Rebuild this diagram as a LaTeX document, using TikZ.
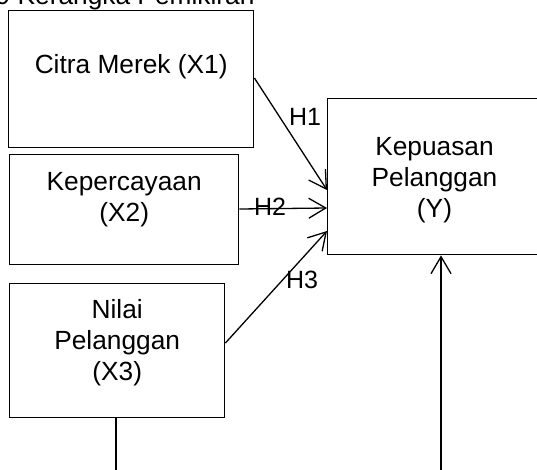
\documentclass[tikz,border=0pt]{standalone}
\usepackage{fontspec}
\setmainfont{Liberation Sans}
\usetikzlibrary{arrows.meta,calc}
\begin{document}
\begin{tikzpicture}[x=1pt,y=-1pt,
  box/.style={draw=black,line width=1.4pt,rectangle,inner sep=0pt,anchor=north west},
  boxtext/.style={inner sep=0pt,anchor=base,align=center,font=\fontsize{26.3}{31}\selectfont},
  hlabel/.style={inner sep=0pt,font=\fontsize{25}{28}\selectfont},
  conn/.style={line width=1.3pt},
  arr/.style={line width=1.3pt,-{Straight Barb[length=17pt,width=20pt,line width=1.3pt]}}]
\useasboundingbox (0,0) rectangle (537,469);
\clip (0,0) rectangle (537,469);
% title (cut off at top)
\node[inner sep=0pt,anchor=base west,font=\fontsize{26.3}{31}\selectfont] (title) at (-4.5,4.5) {9 Kerangka Pemikiran};
% boxes
\node[box,minimum width=245pt,minimum height=137pt] (x1) at (8,10) {};
\node[box,minimum width=229pt,minimum height=110pt] (x2) at (9,154) {};
\node[box,minimum width=215pt,minimum height=134pt] (x3) at (9,283) {};
\node[box,minimum width=225pt,minimum height=156pt] (y) at (327,98) {};
% texts (anchor = baseline of last line)
\node[boxtext] (x1t) at ($(x1.north)+(0,63)$) {Citra Merek (X1)};
\node[boxtext] (x2t) at ($(x2.north)+(0,67)$) {Kepercayaan\\(X2)};
\node[boxtext] (x3t) at ($(x3.north)+(0,97)$) {Nilai\\Pelanggan\\(X3)};
\node[boxtext] (yt) at ($(y.north west)+(107.5,119)$) {Kepuasan\\Pelanggan\\(Y)};
% connector points
\coordinate (s1) at ($(x1.north east)+(0,68)$);
\coordinate (e1) at ($(y.north west)+(0,92)$);
\coordinate (s2) at ($(x2.north east)+(0,55)$);
\coordinate (e2) at ($(y.north west)+(0,110)$);
\coordinate (s3) at ($(x3.north east)+(0,60)$);
\coordinate (e3) at ($(y.north west)+(0,133)$);
\coordinate (b1) at ($(x3.south west)+(107,0)$);
\coordinate (b1e) at (116,472);
\coordinate (b2s) at (441,472);
\coordinate (b2) at ($(y.south west)+(114,0)$);
% connectors
\draw[arr] (s1) -- (e1);
\draw[arr] (s2) -- (e2);
\draw[arr] (s3) -- (e3);
\draw[conn] (b1) -- (b1e);
\draw[arr] (b2s) -- (b2);
% labels
\node[hlabel] (h1) at (305,117) {H1};
\node[hlabel] (h2) at (270,207) {H2};
\node[hlabel] (h3) at (302,280) {H3};
\end{tikzpicture}
\end{document}
